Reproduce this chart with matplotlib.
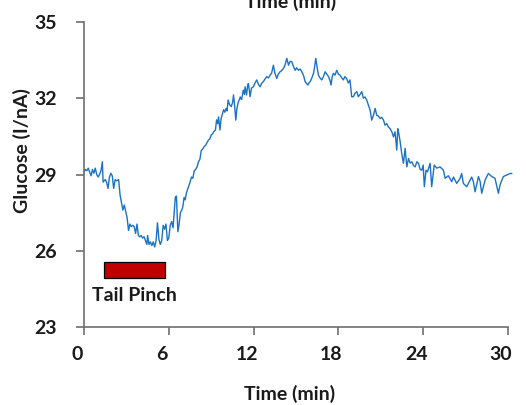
import matplotlib
matplotlib.use("Agg")
import matplotlib.pyplot as plt
from matplotlib.patches import Rectangle
from matplotlib.transforms import ScaledTranslation

# ---- data ----
time_min = [
    0.0, 0.1, 0.2, 0.3, 0.4, 0.5, 0.6, 0.7, 0.8, 0.9, 1.0, 1.1, 1.2, 1.3, 1.35, 1.5, 1.6, 1.7,
    1.8, 1.9, 2.0, 2.1, 2.2, 2.3, 2.45, 2.55, 2.65, 2.75, 2.85, 2.95, 3.05, 3.15, 3.25, 3.35,
    3.45, 3.55, 3.65, 3.75, 3.85, 3.95, 4.05, 4.15, 4.25, 4.35, 4.45, 4.5, 4.6, 4.7, 4.8, 4.9,
    5.0, 5.1, 5.2, 5.3, 5.4, 5.5, 5.6, 5.7, 5.8, 5.9, 6.0, 6.1, 6.2, 6.3, 6.38, 6.46, 6.54,
    6.64, 6.72, 6.82, 6.92, 7.0, 7.08, 7.16, 7.26, 7.38, 7.48, 7.6, 7.7, 7.8, 7.9, 8.0, 8.1,
    8.2, 8.3, 8.4, 8.5, 8.6, 8.7, 8.8, 8.9, 9.0, 9.1, 9.2, 9.3, 9.38, 9.46, 9.52, 9.62, 9.7,
    9.8, 9.88, 9.96, 10.05, 10.12, 10.2, 10.3, 10.42, 10.52, 10.58, 10.66, 10.74, 10.82,
    10.92, 11.0, 11.05, 11.15, 11.27, 11.35, 11.4, 11.5, 11.58, 11.63, 11.7, 11.75, 11.85,
    11.98, 12.1, 12.22, 12.34, 12.46, 12.58, 12.69, 12.8, 12.93, 13.05, 13.16, 13.28, 13.4,
    13.5, 13.64, 13.75, 13.87, 14.0, 14.11, 14.22, 14.35, 14.47, 14.58, 14.7, 14.82, 14.94,
    15.05, 15.17, 15.3, 15.41, 15.53, 15.65, 15.75, 15.84, 15.92, 16.0, 16.12, 16.24, 16.32,
    16.4, 16.5, 16.59, 16.7, 16.82, 16.94, 17.06, 17.18, 17.3, 17.4, 17.48, 17.56, 17.65,
    17.76, 17.88, 18.0, 18.11, 18.24, 18.35, 18.46, 18.58, 18.7, 18.82, 18.94, 19.06, 19.18,
    19.3, 19.41, 19.53, 19.65, 19.77, 19.88, 20.0, 20.12, 20.24, 20.36, 20.48, 20.6, 20.71,
    20.83, 20.95, 21.07, 21.19, 21.3, 21.42, 21.54, 21.66, 21.78, 21.9, 22.01, 22.13, 22.2,
    22.28, 22.37, 22.48, 22.6, 22.72, 22.84, 22.96, 23.08, 23.2, 23.32, 23.43, 23.55, 23.67,
    23.78, 23.9, 24.0, 24.08, 24.2, 24.3, 24.49, 24.6, 24.78, 24.96, 25.19, 25.43, 25.55,
    25.78, 26.02, 26.14, 26.37, 26.61, 26.72, 26.84, 27.08, 27.32, 27.43, 27.55, 27.67,
    27.91, 28.03, 28.14, 28.38, 28.61, 28.85, 29.08, 29.32, 29.44, 29.67, 29.91, 30.15, 30.26,
]
glucose = [
    29.1, 29.2, 29.15, 29.25, 29.1, 28.95, 29.2, 29.05, 29.25, 29.0, 28.9, 29.0, 29.15, 29.5,
    28.7, 28.8, 28.7, 28.45, 28.9, 29.05, 28.95, 28.45, 28.8, 28.75, 28.8, 28.2, 27.9, 27.6,
    27.8, 27.55, 27.3, 26.8, 27.05, 26.95, 27.0, 26.95, 26.68, 27.05, 26.6, 26.55, 26.6, 26.5,
    26.55, 26.4, 26.25, 26.6, 26.25, 26.35, 26.2, 26.35, 26.15, 26.4, 27.1, 26.45, 26.25,
    26.4, 27.0, 26.85, 27.05, 26.4, 26.5, 27.0, 27.15, 26.9, 27.5, 28.1, 28.15, 26.75, 27.0,
    27.5, 27.6, 27.75, 28.1, 28.0, 28.3, 28.5, 28.65, 28.9, 28.85, 29.15, 29.2, 29.3, 29.5,
    29.6, 29.95, 30.0, 30.1, 30.15, 30.25, 30.35, 30.4, 30.55, 30.6, 30.7, 30.75, 31.15,
    31.0, 31.27, 30.75, 31.2, 31.4, 31.55, 31.45, 31.6, 31.5, 31.93, 31.75, 31.67, 31.85,
    32.13, 31.7, 31.14, 31.6, 31.86, 31.95, 32.05, 31.95, 32.32, 32.15, 32.45, 32.13, 32.5,
    32.58, 32.3, 32.06, 32.4, 32.45, 32.6, 32.72, 32.55, 32.45, 32.6, 32.65, 32.75, 32.85,
    32.8, 32.9, 33.0, 33.3, 33.0, 32.78, 32.95, 33.04, 33.1, 33.17, 33.3, 33.57, 33.3, 33.45,
    33.44, 33.25, 33.1, 33.2, 33.1, 33.15, 33.04, 32.9, 32.65, 32.58, 32.52, 32.6, 32.65,
    32.8, 32.98, 33.25, 33.57, 33.2, 32.9, 32.8, 32.72, 32.85, 33.04, 32.95, 32.85, 32.7,
    32.52, 32.85, 32.98, 32.91, 33.1, 32.95, 32.91, 32.8, 32.72, 32.85, 32.78, 32.6, 32.72,
    32.06, 32.06, 32.2, 32.26, 32.06, 32.15, 32.26, 32.0, 32.05, 31.93, 31.73, 31.54, 31.14,
    31.33, 31.6, 31.33, 31.3, 31.2, 31.25, 31.14, 30.94, 31.0, 30.87, 30.8, 30.68, 30.48,
    30.68, 29.96, 30.8, 30.6, 30.29, 29.83, 29.44, 30.03, 29.3, 29.63, 29.45, 29.5, 29.35,
    29.3, 29.5, 29.44, 29.2, 29.17, 29.37, 28.52, 29.17, 29.1, 29.44, 28.52, 29.37, 29.25,
    29.3, 29.17, 28.85, 28.95, 28.72, 28.9, 28.65, 28.85, 29.04, 28.65, 28.52, 28.78, 28.9,
    28.72, 28.32, 28.92, 28.72, 28.26, 28.78, 29.04, 28.92, 28.85, 28.26, 28.6, 28.92, 28.98,
    29.04, 29.04,
]
x_ticks = [0, 6, 12, 18, 24, 30]
y_ticks = [23, 26, 29, 32, 35]
pinch_start, pinch_end = 1.42, 5.73
pinch_low, pinch_high = 24.93, 25.55
pinch_label = "Tail Pinch"
x_label = "Time (min)"
y_label = "Glucose (I/nA)"

FONT = "Lato"
FS = 14
W, H = 526, 405
fig = plt.figure(figsize=(W / 100, H / 100), dpi=100)
ax = fig.add_axes([84 / W, 1 - 327 / H, (508 - 84) / W, (327 - 22) / H])

ax.plot(time_min, glucose, color="#1a73c4", lw=1.0, clip_on=False)

ax.add_patch(Rectangle((pinch_start, pinch_low), pinch_end - pinch_start,
                       pinch_high - pinch_low, facecolor="#C00000",
                       edgecolor="black", lw=0.9))
ax.text((pinch_start + pinch_end) / 2 - 0.0, 24.02, pinch_label, ha="center",
        va="baseline", fontfamily=FONT, fontweight="bold", fontsize=FS, color="#1a1a1a")

ax.set_xlim(0, 30)
ax.set_ylim(23, 35)
ax.set_xticks(x_ticks)
ax.set_yticks(y_ticks)
ax.set_xticklabels([str(v) for v in x_ticks], fontfamily=FONT, fontweight="bold",
                   fontsize=FS, color="#1a1a1a")
ax.set_yticklabels([str(v) for v in y_ticks], fontfamily=FONT, fontweight="bold",
                   fontsize=FS, color="#1a1a1a")
ax.tick_params(axis="y", direction="out", length=5.8, width=1.2, color="#6e6e6e", pad=14)
ax.tick_params(axis="x", direction="out", length=5.8, width=1.2, color="#6e6e6e", pad=8)
shift = ScaledTranslation(-7 / 100, 0, fig.dpi_scale_trans)
for lab in ax.get_xticklabels():
    lab.set_transform(lab.get_transform() + shift)

for s in ["top", "right"]:
    ax.spines[s].set_visible(False)
for s in ["left", "bottom"]:
    ax.spines[s].set_color("#6e6e6e")
    ax.spines[s].set_linewidth(1.2)

fig.text(290 / W, 1 - 400 / H, x_label, ha="center", va="baseline",
         fontfamily=FONT, fontweight="bold", fontsize=FS, color="#1a1a1a")
fig.text(291 / W, 1 - 8 / H, x_label, ha="center", va="baseline",
         fontfamily=FONT, fontweight="bold", fontsize=FS, color="#1a1a1a")
fig.text(22 / W, 1 - 151 / H, y_label, ha="center", va="center", rotation=90,
         fontfamily=FONT, fontweight="bold", fontsize=FS, color="#1a1a1a")

fig.savefig("out.png", dpi=100)
